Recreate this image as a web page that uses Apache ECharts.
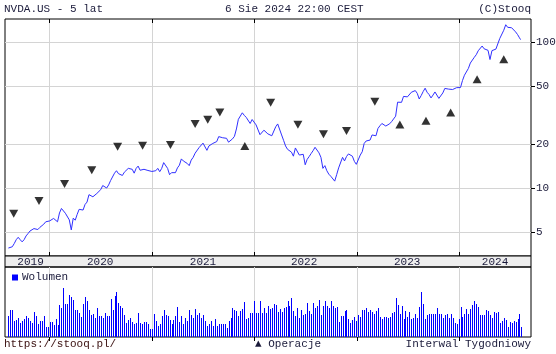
<!DOCTYPE html>
<html>
<head>
<meta charset="utf-8">
<title>NVDA.US - 5 lat</title>
<script src="https://cdn.jsdelivr.net/npm/echarts@6/dist/echarts.min.js"></script>
<style>
html, body { margin: 0; padding: 0; background: #fff; }
#chart { width: 556px; height: 354px; }
</style>
</head>
<body>
<div id="chart"></div>
<script>
// weekly closes, split adjusted, one list per year
var close2019 = [3.90, 3.95, 3.98, 4.19, 4.45, 4.62, 4.45, 4.30, 4.45, 4.72, 4.90, 5.10, 5.13, 5.30, 5.25, 5.22, 5.40, 5.35, 5.68, 5.90, 5.97];
var close2020 = [5.98, 6.13, 6.22, 6.20, 5.90, 6.78, 7.28, 7.37, 6.75, 6.70, 6.08, 5.19, 6.25, 6.05, 6.63, 7.18, 7.20, 7.10, 7.75, 8.05,
  9.05, 8.90, 8.75, 8.80, 9.22, 9.10, 9.80, 10.45, 10.30, 10.05, 10.55, 11.30, 11.60, 12.70, 13.20, 12.60, 12.40, 12.25, 12.90, 13.00,
  13.70, 13.90, 13.50, 12.70, 13.70, 14.20, 13.30, 13.40, 13.50, 13.40, 13.25, 13.05];
var close2021 = [13.05, 13.30, 13.20, 13.70, 13.00, 13.70, 15.00, 14.70, 13.70, 12.40, 12.80, 13.00, 12.80, 13.80, 14.40, 15.90, 15.40, 15.00, 14.80, 14.30,
  15.60, 16.30, 17.40, 17.90, 19.00, 19.50, 20.40, 20.00, 18.20, 19.50, 19.50, 20.30, 20.10, 20.90, 22.60, 22.90, 22.20, 21.90, 22.00, 20.70,
  20.80, 21.80, 22.70, 25.50, 29.70, 30.30, 32.90, 31.60, 30.60, 30.10, 27.80, 29.60, 29.40];
var close2022 = [27.20, 26.50, 23.30, 22.80, 25.00, 25.00, 23.60, 24.10, 22.90, 22.20, 26.40, 27.60, 26.80, 23.20, 21.30, 19.50, 18.50, 18.80, 17.70, 16.60,
  18.90, 18.70, 16.90, 16.40, 17.10, 14.50, 15.80, 16.50, 17.30, 18.10, 19.10, 18.80, 17.50, 16.30, 13.70, 14.30, 13.20, 12.50, 12.10, 12.00,
  11.20, 12.40, 13.80, 14.10, 16.30, 15.40, 16.50, 17.20, 17.50, 16.60, 15.30, 14.60];
var close2023 = [14.80, 16.90, 17.80, 20.30, 21.10, 21.30, 21.40, 23.20, 23.90, 22.90, 25.70, 26.80, 27.80, 27.00, 26.70, 27.20, 27.70, 28.70, 28.40, 31.20,
  38.90, 39.30, 38.80, 42.60, 42.30, 42.30, 42.50, 45.50, 44.30, 46.70, 44.70, 40.90, 43.20, 46.00, 48.50, 45.50, 43.90, 41.60, 43.50, 45.70,
  45.40, 41.30, 40.50, 45.00, 48.30, 49.20, 47.80, 46.70, 47.50, 48.80, 48.90, 49.50];
var close2024 = [49.00, 54.70, 59.50, 61.10, 66.20, 72.10, 72.60, 78.90, 82.20, 87.50, 87.90, 94.30, 90.30, 88.00, 88.10, 76.20, 87.70, 88.80, 89.80, 92.40,
  106.40, 109.70, 120.90, 131.90, 126.60, 123.50, 125.80, 129.20, 117.90, 113.10, 107.30, 104.30];

// weekly volume (relative units)
var vol2019 = [21, 27, 27, 16, 17, 19, 14, 16, 18, 21, 19, 16, 14, 25, 21, 13, 16, 16, 21, 10, 10];
var vol2020 = [15, 15, 12, 18, 12, 32, 29, 49, 33, 33, 42, 40, 37, 27, 27, 24, 20, 33, 40, 36,
  27, 22, 23, 19, 29, 21, 21, 19, 24, 21, 21, 38, 27, 41, 45, 34, 31, 29, 22, 14,
  17, 19, 15, 13, 14, 24, 14, 13, 15, 15, 13, 8];
var vol2021 = [8, 23, 16, 11, 13, 21, 27, 22, 21, 17, 13, 17, 21, 30, 15, 21, 13, 19, 16, 27,
  22, 19, 28, 22, 24, 19, 22, 16, 11, 13, 16, 11, 18, 11, 13, 13, 13, 13, 9, 16,
  19, 29, 27, 26, 21, 26, 28, 35, 18, 19, 24, 24, 36];
var vol2022 = [24, 24, 36, 24, 29, 24, 31, 28, 29, 33, 32, 25, 28, 25, 29, 30, 36, 31, 39, 26,
  21, 29, 19, 27, 22, 23, 34, 26, 23, 34, 29, 31, 37, 22, 31, 36, 31, 29, 36, 31,
  29, 30, 15, 21, 21, 26, 27, 18, 14, 17, 20, 16];
var vol2023 = [22, 20, 27, 27, 29, 25, 27, 25, 23, 26, 29, 20, 18, 20, 20, 19, 20, 24, 25, 39,
  32, 23, 31, 18, 26, 20, 25, 18, 19, 23, 19, 30, 45, 33, 18, 22, 23, 23, 23, 23,
  29, 23, 23, 19, 22, 23, 19, 23, 19, 14, 13, 18];
var vol2024 = [30, 20, 23, 28, 23, 28, 32, 36, 33, 30, 22, 22, 22, 27, 26, 22, 19, 25, 24, 25,
  14, 16, 19, 17, 10, 15, 14, 16, 15, 18, 23, 10];

var closes = close2019.concat(close2020, close2021, close2022, close2023, close2024);
var volumes = vol2019.concat(vol2020, vol2021, vol2022, vol2023, vol2024);

var firstWeek = '2019-08-09';
var lastDay = '2024-08-06';

// "Operacje" markers
var sellDates = ['2019-08-28', '2019-11-26', '2020-02-25', '2020-06-01', '2020-09-01', '2020-11-29', '2021-03-08', '2021-06-04',
  '2021-07-19', '2021-08-31', '2022-02-28', '2022-06-05', '2022-09-04', '2022-11-25', '2023-03-06'];
var sellPrices = [6.7, 8.2, 10.7, 13.3, 19.3, 19.6, 19.8, 27.6, 29.5, 33, 38.6, 27.3, 23.5, 24.7, 39.2];
var buyDates = ['2021-11-28', '2023-06-03', '2023-09-04', '2023-12-01', '2024-03-04', '2024-06-07'];
var buyPrices = [19.5, 27.4, 29, 33, 55.8, 76.5];

var axisStart = '2019-07-28';
var axisEnd = '2024-09-12';
var yearStarts = ['2020-01-01', '2021-01-01', '2022-01-01', '2023-01-01', '2024-01-01'];
var yearLabelDates = ['2019-10-27', '2020-07-01', '2021-07-02', '2022-06-27', '2023-06-29', '2024-05-07'];
var priceTicks = [5, 10, 20, 50, 100];

var weeks = [];
var t0 = Date.parse(firstWeek);
for (var i = 0; i < closes.length; i++) weeks.push(t0 + i * 7 * 864e5);
weeks[weeks.length - 1] = Date.parse(lastDay);

function pairs(xs, ys) {
  return xs.map(function (x, i) { return [typeof x === 'string' ? Date.parse(x) : x, ys[i]]; });
}

var font = 'Liberation Mono';
var txt = { fontFamily: font, fontSize: 11, color: '#1a1a3a', fontWeight: 'normal' };
var gridGrey = '#d4d4d4';
var xMin = Date.parse(axisStart), xMax = Date.parse(axisEnd);
var ticksTs = yearStarts.map(Date.parse);

// x axes are plain value axes holding timestamps
function dateAxis(grid, pos, extra) {
  return Object.assign({
    type: 'value', gridIndex: grid, position: pos, min: xMin, max: xMax, scale: true,
    axisLine: { show: false },
    axisTick: { show: true, inside: true, length: 4, customValues: ticksTs, lineStyle: { color: '#000' } },
    splitLine: { show: false },
    axisLabel: { show: false }
  }, extra);
}

// one crisp 1px column per week
function volumeBar(params, api) {
  var top = api.coord([api.value(0), api.value(1)]);
  var base = api.coord([api.value(0), 0]);
  var x = Math.round(top[0]);
  var y = Math.round(top[1]);
  return {
    type: 'rect',
    shape: { x: x, y: y, width: 1, height: Math.round(base[1]) - y },
    style: { fill: '#0000ff' }
  };
}

var chart = echarts.init(document.getElementById('chart'));
var option = {
  animation: false,
  backgroundColor: '#fff',
  title: [
    { text: 'NVDA.US - 5 lat', left: 4, top: 4, padding: 0, textStyle: txt },
    { text: '6 Sie 2024 22:00 CEST', left: 225, top: 4, padding: 0, textStyle: txt },
    { text: '(C)Stooq', right: 25, top: 4, padding: 0, textStyle: txt },
    { text: 'https://stooq.pl/', left: 4, top: 339, padding: 0, textStyle: Object.assign({}, txt, { color: '#3a1010' }) },
    { text: '▲ Operacje', left: 255, top: 339, padding: 0, textStyle: txt },
    { text: 'Interwal Tygodniowy', right: 25, top: 339, padding: 0, textStyle: txt }
  ],
  legend: {
    data: [{ name: 'Wolumen', itemStyle: { color: '#0000ff' } }],
    left: 12, top: 272, padding: 0,
    icon: 'rect', itemWidth: 6, itemHeight: 6, itemGap: 4,
    textStyle: Object.assign({}, txt, { padding: [0, 0, 0, -1] })
  },
  grid: [
    { left: 5, top: 19, width: 526, height: 237, show: true, borderColor: '#000', borderWidth: 1, outerBoundsMode: 'none' },
    { left: 5, top: 256, width: 526, height: 11, show: true, backgroundColor: '#eeeeee', borderColor: '#000', borderWidth: 1, outerBoundsMode: 'none' },
    { left: 5, top: 267, width: 526, height: 70, show: true, borderColor: '#000', borderWidth: 1, outerBoundsMode: 'none' }
  ],
  xAxis: [
    dateAxis(0, 'bottom', {
      splitLine: { show: true, lineStyle: { color: gridGrey, width: 1 } },
      axisLabel: {
        show: true, margin: 1, customValues: yearLabelDates.map(Date.parse),
        formatter: function (v) { return String(new Date(v).getUTCFullYear()); },
        fontFamily: font, fontSize: 11, color: '#1a1a3a', verticalAlign: 'top'
      }
    }),
    dateAxis(0, 'top', {}),
    { type: 'value', gridIndex: 1, show: false },
    dateAxis(2, 'top', { splitLine: { show: true, lineStyle: { color: gridGrey, width: 1 } } })
  ],
  yAxis: [
    {
      type: 'log', gridIndex: 0, position: 'right', min: 3.44, max: 144.4,
      axisLine: { show: false },
      axisTick: { show: true, length: 4, customValues: priceTicks, lineStyle: { color: '#000' } },
      splitLine: { show: true, lineStyle: { color: gridGrey, width: 1 } },
      axisLabel: { customValues: priceTicks, margin: 5, fontFamily: font, fontSize: 11, color: '#1a1a3a' }
    },
    { type: 'value', gridIndex: 1, show: false },
    { type: 'value', gridIndex: 2, min: 0, max: 70, show: false }
  ],
  series: [
    {
      name: 'Kurs', type: 'line', xAxisIndex: 0, yAxisIndex: 0,
      data: pairs(weeks, closes), showSymbol: false, symbol: 'none',
      lineStyle: { color: '#3030ff', width: 1 }, z: 3
    },
    {
      name: 'Sprzedaż', type: 'scatter', xAxisIndex: 0, yAxisIndex: 0,
      data: pairs(sellDates, sellPrices), symbol: 'triangle', symbolRotate: 180,
      symbolSize: [9, 8], itemStyle: { color: '#000' }, z: 4
    },
    {
      name: 'Kupno', type: 'scatter', xAxisIndex: 0, yAxisIndex: 0,
      data: pairs(buyDates, buyPrices), symbol: 'triangle',
      symbolSize: [9, 8], itemStyle: { color: '#000' }, z: 4
    },
    {
      name: 'Wolumen', type: 'custom', xAxisIndex: 3, yAxisIndex: 2,
      data: pairs(weeks, volumes), renderItem: volumeBar,
      itemStyle: { color: '#0000ff' }, encode: { x: 0, y: 1 }, z: 3
    }
  ]
};
chart.setOption(option);
</script>
</body>
</html>
